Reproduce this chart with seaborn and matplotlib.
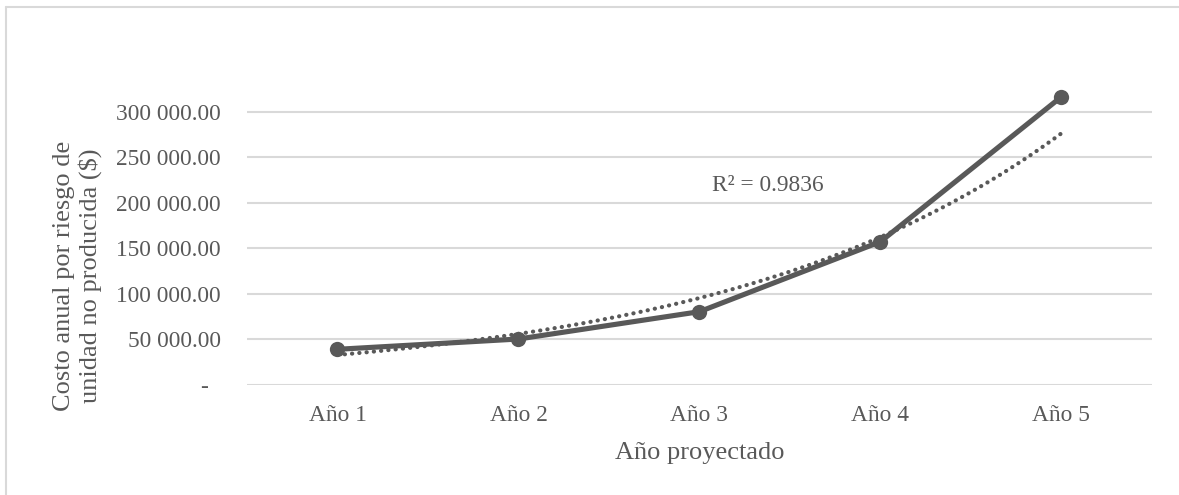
import numpy as np
import pandas as pd
import matplotlib
matplotlib.use("Agg")
import matplotlib.pyplot as plt
from matplotlib.lines import Line2D
from matplotlib.ticker import FuncFormatter
import seaborn as sns

# Projected annual cost per unit not produced
years = ["Año 1", "Año 2", "Año 3", "Año 4", "Año 5"]
costs = [39200, 50500, 80500, 157300, 316400]
y_ticks = [0, 50000, 100000, 150000, 200000, 250000, 300000]
r2_label = "R² = 0.9836"

x_label = "Año proyectado"
y_label = "Costo anual por riesgo de\nunidad no producida ($)"

sns.set_theme(style="white")
plt.rcParams["font.family"] = ["Liberation Serif", "DejaVu Serif"]

GRAY = "#595959"
GRID = "#d9d9d9"
FS = 16.8
FS_TITLE = 19

df = pd.DataFrame({"year": years, "cost": costs})

fig = plt.figure(figsize=(11.79, 4.95), dpi=100)
ax = fig.add_axes([0.2095, 0.2222, 0.7675, 0.6073])

# Exponential trend line (least squares on log values)
xi = np.arange(1, len(costs) + 1)
b, a = np.polyfit(xi, np.log(costs), 1)
xs = np.linspace(1, len(costs), 200)
trend = np.exp(a + b * xs)
ax.plot(xs - 1, trend, color=GRAY, lw=3.0,
        linestyle=(0, (0.05, 1.7)), dash_capstyle="round", zorder=2)

sns.lineplot(data=df, x="year", y="cost", ax=ax, color=GRAY, lw=3.7,
             marker="o", markersize=11, markeredgewidth=0,
             sort=False, zorder=3)

ax.set_xlim(-0.5, len(years) - 0.5)
ax.set_ylim(0, 330000)
ax.set_yticks(y_ticks)


def fmt(v, _):
    if v == 0:
        return "-  "
    return f"{v:,.2f}".replace(",", " ")


ax.yaxis.set_major_formatter(FuncFormatter(fmt))
ax.grid(axis="y", color=GRID, lw=1.5)
ax.grid(axis="x", visible=False)
for s in ax.spines.values():
    s.set_visible(False)
ax.tick_params(axis="both", length=0, labelsize=FS, colors=GRAY)
ax.tick_params(axis="y", pad=18.7)
ax.tick_params(axis="x", pad=14.5)
ax.set_xlabel("")
ax.set_ylabel("")

ax.text(2.07, 219500, r2_label, ha="left", va="center",
        fontsize=FS, color=GRAY)

fig.text(0.5935, 0.085, x_label, ha="center", va="center",
         fontsize=FS_TITLE, color=GRAY)
fig.text(0.066, 0.4434, y_label, ha="center", va="center",
         rotation=90, fontsize=FS_TITLE, color=GRAY, linespacing=1.15)

# Chart frame (top and left edges)
fig.add_artist(Line2D([5.5 / 1179, 1], [1 - 6.5 / 495, 1 - 6.5 / 495],
                      transform=fig.transFigure, color=GRID, lw=1.5))
fig.add_artist(Line2D([5.5 / 1179, 5.5 / 1179], [0, 1 - 6.5 / 495],
                      transform=fig.transFigure, color=GRID, lw=1.5))

fig.savefig("out.png", dpi=100, facecolor="white")
